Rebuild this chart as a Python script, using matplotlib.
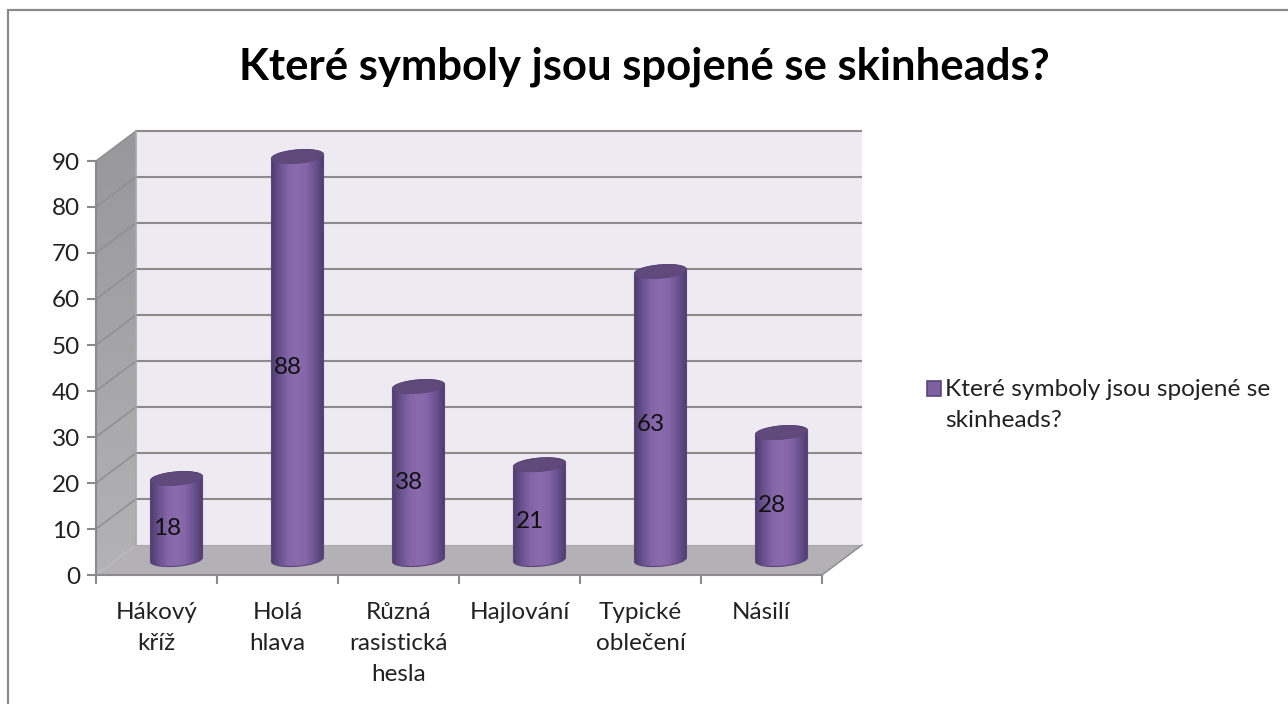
import numpy as np
import matplotlib
matplotlib.use("Agg")
import matplotlib.pyplot as plt
from matplotlib.patches import Polygon, Rectangle
from matplotlib.colors import LinearSegmentedColormap

plt.rcParams['font.family'] = ['Lato', 'DejaVu Sans']

title = "Které symboly jsou spojené se skinheads?"
series_name = "Které symboly jsou spojené se\nskinheads?"
categories = ["Hákový\nkříž", "Holá\nhlava", "Různá\nrasistická\nhesla", "Hajlování", "Typické\noblečení", "Násilí"]
values = [18, 88, 38, 21, 63, 28]
y_ticks = [0, 10, 20, 30, 40, 50, 60, 70, 80, 90]

W, H = 1288, 704
fig = plt.figure(figsize=(W / 100, H / 100), dpi=100, facecolor="white")

# Frame
fig.add_artist(Rectangle((8 / W, -0.01), (W + 8) / W, 1 - 10 / H + 0.01, transform=fig.transFigure,
                         fill=False, ec="#8a8a8a", lw=1.6))

# Front plane of the 3D box
L, R, T, B = 96, 822, 161, 575
ax = fig.add_axes([L / W, 1 - B / H, (R - L) / W, (B - T) / H])
n = len(categories)
ax.set_xlim(0, n)
ax.set_ylim(0, 90)
ax.patch.set_visible(False)

# Depth of the box expressed in data units
dx = 40 / ((R - L) / n)
dy = 30 / ((B - T) / 90)
top = y_ticks[-1]

# Back wall, side wall, floor
ax.add_patch(Polygon([(dx, dy), (n + dx, dy), (n + dx, top + dy), (dx, top + dy)],
                     fc="#edebf1", ec="none", clip_on=False, zorder=1))
side_cmap = LinearSegmentedColormap.from_list("side", ["#98979b", "#b3b2b5"])
side = ax.imshow(np.linspace(0, 1, 64)[:, None], cmap=side_cmap, aspect="auto",
                 extent=(0, dx, 0, top + dy), origin="upper", zorder=1)
side_poly = Polygon([(0, 0), (dx, dy), (dx, top + dy), (0, top)], transform=ax.transData, fc="none", ec="none",
                    clip_on=False)
ax.add_patch(side_poly)
side.set_clip_path(side_poly)
side.set_clip_box(fig.bbox)
ax.add_patch(Polygon([(0, 0), (n, 0), (n + dx, dy), (dx, dy)], fc="#b3b1b5", ec="none",
                     clip_on=False, zorder=1))

# Gridlines
for v in y_ticks[1:]:
    ax.plot([dx, n + dx], [v + dy, v + dy], color="#8b8b8b", lw=1.5, clip_on=False, zorder=2,
            solid_capstyle="butt")
    ax.plot([0, dx], [v, v + dy], color="#8f8f8f", lw=1.1, clip_on=False, zorder=2)
ax.plot([dx, dx], [dy, top + dy], color="#a8a8a8", lw=1.2, clip_on=False, zorder=2)
ax.plot([n, n + dx], [0, dy], color="#8f8f8f", lw=1.1, clip_on=False, zorder=2)
ax.plot([dx, n + dx], [dy, dy], color="#a9a8ab", lw=0.8, clip_on=False, zorder=2)

# Cylinders
body_cmap = LinearSegmentedColormap.from_list(
    "body", ["#4f3c6c", "#6a5290", "#8465a8", "#8a6bac", "#8465a8", "#6a5290", "#4f3c6c"])
half_w = 0.215
tilt = 0.45
ry = 1.45
t = np.linspace(0, 2 * np.pi, 121)
for i, v in enumerate(values):
    cx = i + 0.5 + dx / 2
    base = dy / 2 + 0.1
    cap = base + v - 0.4
    low = np.linspace(np.pi, 2 * np.pi, 60)
    up = np.linspace(0, np.pi, 60)
    xs = np.r_[cx + half_w * np.cos(low), cx + half_w * np.cos(up)]
    ys = np.r_[base + tilt * np.cos(low) + ry * np.sin(low),
               cap + tilt * np.cos(up) + ry * np.sin(up)]
    poly = Polygon(np.c_[xs, ys], transform=ax.transData, fc="none", ec="#5b4579", lw=0.8,
                   clip_on=False, zorder=4)
    ax.add_patch(poly)
    im = ax.imshow(np.linspace(0, 1, 128)[None, :], cmap=body_cmap, aspect="auto",
                   extent=(cx - half_w, cx + half_w, base - 4, cap + 4), zorder=3)
    im.set_clip_path(poly)
    im.set_clip_box(fig.bbox)
    ax.add_patch(Polygon(np.c_[cx + half_w * np.cos(t),
                               cap + tilt * np.cos(t) + ry * np.sin(t)],
                         fc="#604a7b", ec="#5b4579", lw=0.6, clip_on=False, zorder=5))
    ax.text(i + 0.5 + 0.087, v / 2 + 1.2, str(v), ha="center", va="center", fontsize=17.5,
            color="#111111", zorder=6)
ax.set_xlim(0, n)
ax.set_ylim(0, 90)

# Axes, ticks and labels
for s in ("top", "right"):
    ax.spines[s].set_visible(False)
for s in ("left", "bottom"):
    ax.spines[s].set_color("#8b8b8b")
    ax.spines[s].set_linewidth(1.5)
    ax.spines[s].set_zorder(2.5)
ax.set_yticks(y_ticks)
ax.set_xticks(range(n + 1))
ax.set_xticklabels([])
ax.set_xticks(np.arange(n) + 0.5, categories, minor=True)
ax.tick_params(axis="both", which="major", length=6.5, width=1.5, color="#8b8b8b",
               labelsize=17.5, labelcolor="#222222", pad=5)
ax.tick_params(axis="x", which="minor", length=0, labelsize=17.5, labelcolor="#222222", pad=19.5)
for lab in ax.get_xticklabels(minor=True):
    lab.set_linespacing(1.6)

# Title
fig.text(644 / W, 1 - 67 / H, title, ha="center", va="center", fontsize=31.4, fontweight="bold", color="black")

# Legend
fig.add_artist(Rectangle((927 / W, 1 - 396 / H), 14 / W, 15 / H, transform=fig.transFigure,
                         fc="#7d60a0", ec="#5b4579", lw=1.2))
fig.text(945 / W, 1 - 379 / H, series_name, ha="left", va="top", fontsize=17.6, color="#222222", linespacing=1.6)

fig.savefig("out.png", dpi=100)
